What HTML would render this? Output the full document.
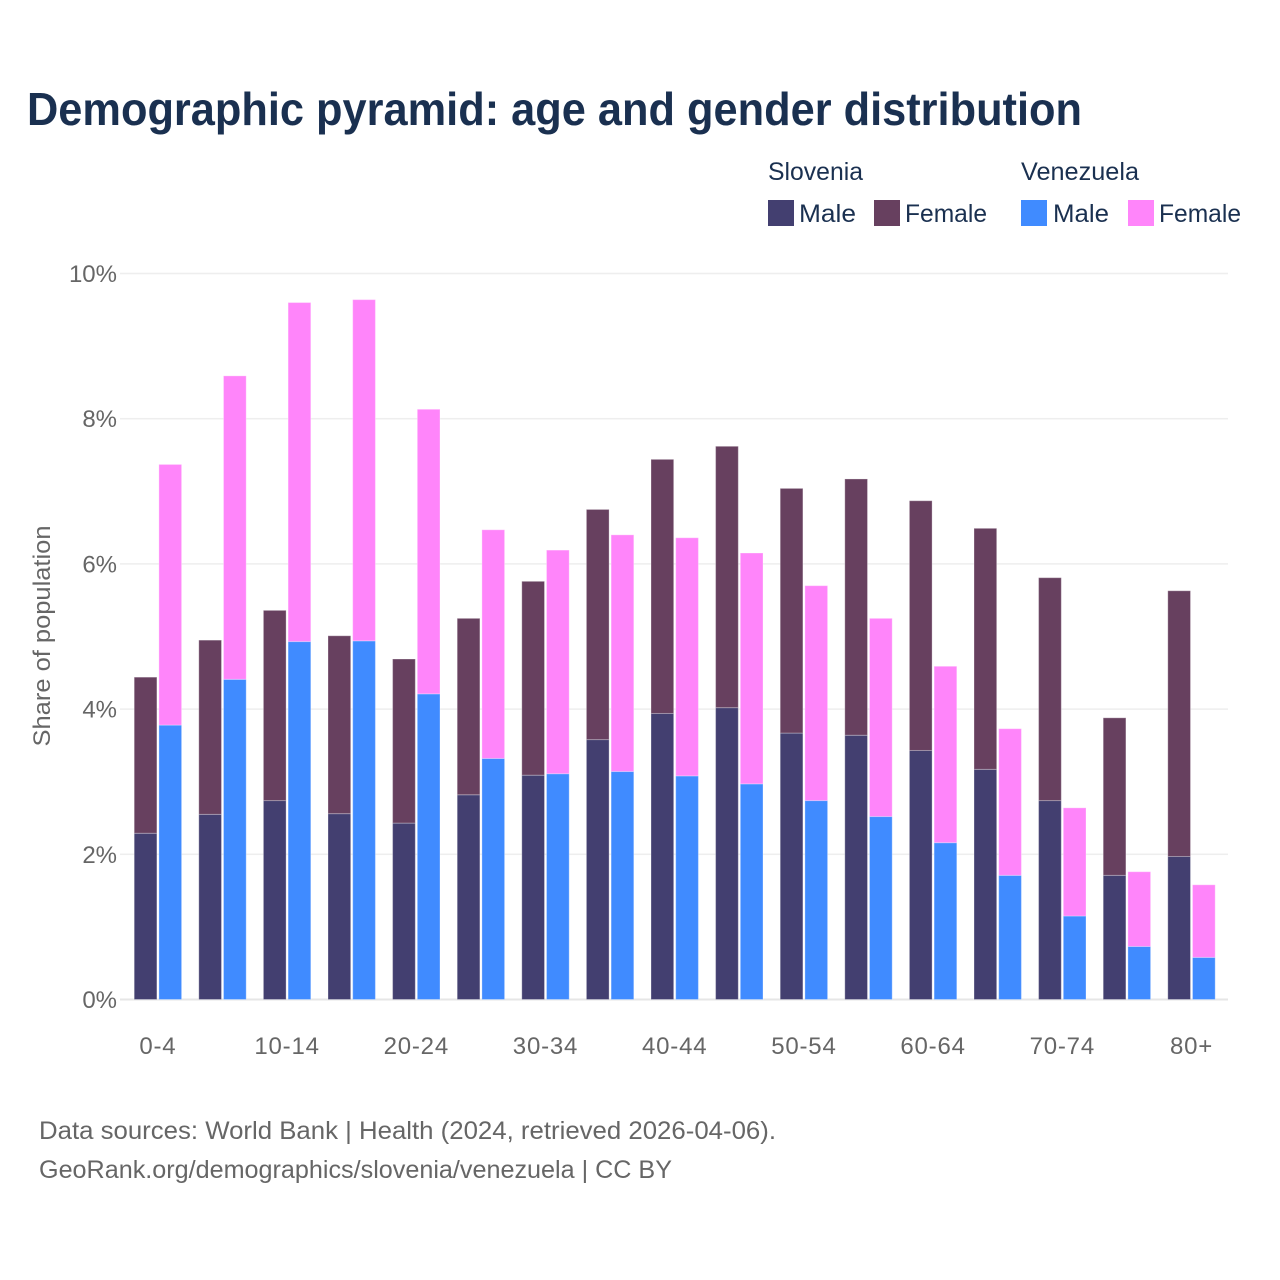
<!DOCTYPE html>
<html lang="en">
<head>
<meta charset="utf-8">
<title>Demographic pyramid: age and gender distribution</title>
<style>
html,body{margin:0;padding:0;background:#fff}
svg{display:block;font-family:"Liberation Sans",sans-serif}
</style>
</head>
<body>
<svg id="chart" xmlns="http://www.w3.org/2000/svg" width="1280" height="1280" viewBox="0 0 1280 1280">
  <rect width="1280" height="1280" fill="#ffffff"/>
  <text x="27" y="125" font-size="46" font-weight="700" fill="#1a3050" textLength="1055" lengthAdjust="spacingAndGlyphs">Demographic pyramid: age and gender distribution</text>

  <g font-size="25" fill="#1a3050">
    <text x="768" y="180" textLength="95" lengthAdjust="spacingAndGlyphs">Slovenia</text>
    <text x="1021" y="180" textLength="118" lengthAdjust="spacingAndGlyphs">Venezuela</text>
    <rect x="768" y="200" width="26" height="26" fill="#433f70"/>
    <text x="799" y="222" textLength="57" lengthAdjust="spacingAndGlyphs">Male</text>
    <rect x="874" y="200" width="26" height="26" fill="#67405f"/>
    <text x="905" y="222" textLength="82" lengthAdjust="spacingAndGlyphs">Female</text>
    <rect x="1021" y="200" width="26" height="26" fill="#408bff"/>
    <text x="1053" y="222" textLength="56" lengthAdjust="spacingAndGlyphs">Male</text>
    <rect x="1128" y="200" width="26" height="26" fill="#ff85fa"/>
    <text x="1159" y="222" textLength="82" lengthAdjust="spacingAndGlyphs">Female</text>
  </g>

  <g id="grid"></g>
  <g id="y-ticks"></g>
  <g id="bars"></g>
  <g id="x-ticks"></g>

  <text transform="translate(50 636) rotate(-90)" text-anchor="middle" font-size="24" fill="#666666" textLength="221" lengthAdjust="spacingAndGlyphs">Share of population</text>

  <g font-size="25" fill="#666666">
    <text x="39" y="1139" textLength="737" lengthAdjust="spacingAndGlyphs">Data sources: World Bank | Health (2024, retrieved 2026-04-06).</text>
    <text x="39" y="1178" textLength="633" lengthAdjust="spacingAndGlyphs">GeoRank.org/demographics/slovenia/venezuela | CC BY</text>
  </g>
</svg>
<script>
const categories = ["0-4","5-9","10-14","15-19","20-24","25-29","30-34","35-39","40-44","45-49","50-54","55-59","60-64","65-69","70-74","75-79","80+"];
const sloveniaMale = [2.29,2.55,2.74,2.56,2.43,2.82,3.09,3.58,3.94,4.02,3.67,3.64,3.43,3.17,2.74,1.71,1.97];
const sloveniaFemale = [2.15,2.40,2.62,2.45,2.26,2.43,2.67,3.17,3.50,3.60,3.37,3.53,3.44,3.32,3.07,2.17,3.66];
const venezuelaMale = [3.78,4.41,4.93,4.94,4.21,3.32,3.11,3.14,3.08,2.97,2.74,2.52,2.16,1.71,1.15,0.73,0.58];
const venezuelaFemale = [3.59,4.18,4.67,4.70,3.92,3.15,3.08,3.26,3.28,3.18,2.96,2.73,2.43,2.02,1.49,1.03,1.00];
const yTickValues = [0,2,4,6,8,10];

const NS = "http://www.w3.org/2000/svg";
const yScale = v => 999.5 - v * 72.6;
const xCenter = i => 157.9 + i * 64.6;
const BAR_W = 22.7;
const BAR_GAP = 2;

function make(tag, attrs, parent) {
  const el = document.createElementNS(NS, tag);
  for (const k in attrs) el.setAttribute(k, attrs[k]);
  parent.appendChild(el);
  return el;
}

const grid = document.getElementById("grid");
const yTicks = document.getElementById("y-ticks");
yTickValues.forEach(v => {
  const line = make("rect", {x: 120, y: yScale(v) - (v === 0 ? 1 : 0.75), width: 1108, height: v === 0 ? 2 : 1.5, fill: v === 0 ? "#e6e6e6" : "#eeeeee"}, grid);
  
  
  const t = make("text", {x: 117, y: yScale(v) + 8.5, "text-anchor": "end", "font-size": 24, fill: "#666666"}, yTicks);
  
  
  t.textContent = v + "%";
});

function drawBar(parent, x, base, value, fill) {
  const top = yScale(base + value);
  const bottom = yScale(base);
  const r = make("rect", {x: x, y: top, width: BAR_W, height: bottom - top, fill: fill, stroke: "#ffffff", "stroke-opacity": 0.3, "stroke-width": 1}, parent);
  
  
}

const bars = document.getElementById("bars");
const xTicks = document.getElementById("x-ticks");
categories.forEach((c, i) => {
  const cx = xCenter(i);
  const g = make("g", {}, bars);
  
  
  const leftX = cx - BAR_W - BAR_GAP / 2;
  const rightX = cx + BAR_GAP / 2;
  drawBar(g, leftX, 0, sloveniaMale[i], "#433f70");
  drawBar(g, leftX, sloveniaMale[i], sloveniaFemale[i], "#67405f");
  drawBar(g, rightX, 0, venezuelaMale[i], "#408bff");
  drawBar(g, rightX, venezuelaMale[i], venezuelaFemale[i], "#ff85fa");
  if (i % 2 === 0) {
    const t = make("text", {x: cx, y: 1054, "text-anchor": "middle", "font-size": 24, "letter-spacing": 0.8, fill: "#666666"}, xTicks);
    
    
    t.textContent = c;
  }
});
</script>
</body>
</html>
